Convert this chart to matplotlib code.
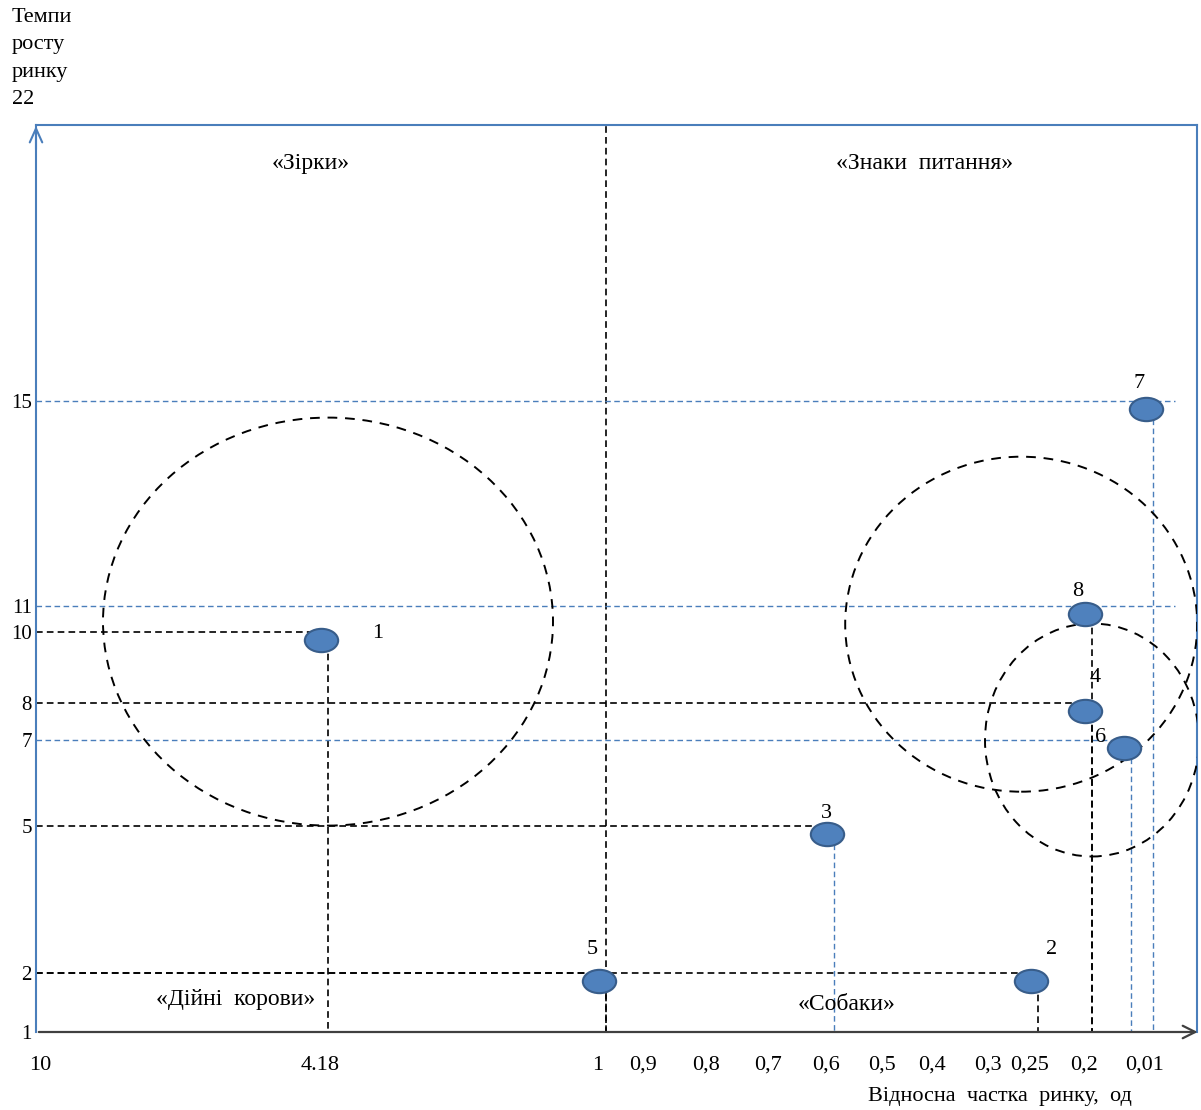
import numpy as np
import matplotlib.pyplot as plt
from matplotlib.path import Path
from matplotlib.patches import Ellipse
from matplotlib.transforms import ScaledTranslation, Affine2D

plt.rcParams['font.family'] = ['Liberation Serif', 'DejaVu Serif']

# Дані: номер продукту, відносна частка ринку, темпи росту ринку
point_ids = [1, 2, 3, 4, 5, 6, 7, 8]
point_share = [4.18, 0.25, 0.6, 0.2, 1.0, 0.08, 0.01, 0.2]
point_growth = [10, 2, 5, 8, 2, 7, 15, 11]
h_colors = ['k', 'k', 'k', 'k', 'k', 'b', 'b', 'b']   # горизонтальні лінії
v_colors = ['k', 'k', 'b', 'k', 'k', 'b', 'b', 'k']   # вертикальні лінії
long_h = [7, 8]   # лінії, що йдуть до правого краю

# Кола (центр: частка, темп; діаметр у пікселях)
circle_share = [4.18, 0.27, 0.2]
circle_growth = [10.4, 10.3, 7.0]
circle_w = [450, 352, 214]
circle_h = [408, 335, 233]

# Осі (нерівномірна шкала, як на малюнку)
x_tick_vals = [10, 4.18, 1, 0.9, 0.8, 0.7, 0.6, 0.5, 0.4, 0.3, 0.25, 0.2, 0.01]
x_tick_labels = ['10', '4.18', '1', '0,9', '0,8', '0,7', '0,6', '0,5', '0,4',
                 '0,3', '0,25', '0,2', '0,01']
y_tick_vals = [1, 2, 5, 7, 8, 10, 11, 15]

# опорні точки шкал (позиція в пікселях)
x_anchor_val = np.array([10, 4.18, 1, 0.9, 0.8, 0.7, 0.6, 0.5, 0.4, 0.3, 0.25, 0.2, 0.01, 0])
x_anchor_pos = np.array([36, 328, 606, 651, 714, 776, 834, 890, 940, 996, 1038, 1092, 1153, 1197])
y_anchor_val = np.array([1, 2, 5, 7, 8, 10, 11, 15, 22])
y_anchor_pos = 1110 - np.array([1032, 973, 826, 740, 703, 632, 606, 401, 125])


def x_fwd(v):
    return np.interp(v, x_anchor_val[::-1], x_anchor_pos[::-1])


def x_inv(p):
    return np.interp(p, x_anchor_pos, x_anchor_val)


def y_fwd(v):
    return np.interp(v, y_anchor_val, y_anchor_pos)


def y_inv(p):
    return np.interp(p, y_anchor_pos, y_anchor_val)


blue = '#4A7EBB'
colmap = {'k': 'black', 'b': blue}

fig = plt.figure(figsize=(12.01, 11.10), dpi=100)
ax = fig.add_axes([36 / 1201, 78 / 1110, 1161 / 1201, 907 / 1110])
ax.set_xscale('function', functions=(x_fwd, x_inv))
ax.set_yscale('function', functions=(y_fwd, y_inv))
ax.set_xlim(10, 0)
ax.set_ylim(1, 22)
# 10 має бути зліва
if ax.transData.transform((10, 5))[0] > ax.transData.transform((0.01, 5))[0]:
    ax.invert_xaxis()

for s in ['left', 'top', 'right']:
    ax.spines[s].set_color(blue)
    ax.spines[s].set_linewidth(1.5)
ax.spines['bottom'].set_visible(False)

ax.set_xticks(x_tick_vals)
ax.set_xticklabels(x_tick_labels, fontsize=16)
ax.set_yticks(y_tick_vals)
ax.set_yticklabels([str(v) for v in y_tick_vals], fontsize=15)
ax.minorticks_off()
ax.tick_params(axis='x', length=0, pad=17)
ax.tick_params(axis='y', length=0, pad=3)
off = ScaledTranslation(-8 / 100, 0, fig.dpi_scale_trans)
off_first = ScaledTranslation(4 / 100, 0, fig.dpi_scale_trans)
for i, lbl in enumerate(ax.get_xticklabels()):
    lbl.set_transform(lbl.get_transform() + (off_first if i == 0 else off))

# нижня вісь зі стрілкою та стрілка вгору
ax.annotate('', xy=(1.003, 0), xytext=(0, 0), xycoords='axes fraction',
            arrowprops=dict(arrowstyle='->,head_length=0.9,head_width=0.45',
                            color='#404040', lw=1.6), annotation_clip=False)
ax.annotate('', xy=(0, 1.002), xytext=(0, 0.97), xycoords='axes fraction',
            arrowprops=dict(arrowstyle='->,head_length=1.0,head_width=0.45',
                            color=blue, lw=1.5), annotation_clip=False)

dash = (0, (4, 2.5))
# лінія поділу квадрантів (частка = 1)
ax.plot([1, 1], [1, 22], color='black', lw=1.2, linestyle=dash)

for pid, sx, gy, hc, vc in zip(point_ids, point_share, point_growth, h_colors, v_colors):
    x_end = 0.005 if pid in long_h else sx
    ax.plot([10, x_end], [gy, gy], color=colmap[hc], lw=1.2 if hc == 'k' else 1.0, linestyle=dash)
    ax.plot([sx, sx], [gy, 1], color=colmap[vc], lw=1.2 if vc == 'k' else 1.0, linestyle=dash)

# кола
for cx, cy, w, h in zip(circle_share, circle_growth, circle_w, circle_h):
    tr = fig.dpi_scale_trans + ScaledTranslation(cx, cy, ax.transData)
    ax.add_patch(Ellipse((0, 0), w / 100, h / 100, transform=tr, fill=False,
                         edgecolor='black', lw=1.4, linestyle=(0, (5, 4)), zorder=3))

# маркери
ell = Path.unit_circle().transformed(Affine2D().scale(1, 0.7))
mk_off = ScaledTranslation(-7 / 100, -8 / 100, fig.dpi_scale_trans)
ax.plot(point_share, point_growth, linestyle='none', marker=ell, markersize=24,
        markerfacecolor='#4F81BD', markeredgecolor='#385D8A', markeredgewidth=1.5,
        transform=ax.transData + mk_off, zorder=5, clip_on=False)

# підписи номерів (зсув у пікселях)
label_off = {1: (50, 2), 2: (14, -23), 3: (-8, -12), 4: (3, -25),
             5: (-14, -23), 6: (-30, -2), 7: (-14, -18), 8: (-14, -14)}
for pid, sx, gy in zip(point_ids, point_share, point_growth):
    dx, dy = label_off[pid]
    ax.annotate(str(pid), (sx, gy), xytext=(dx * 0.72, -dy * 0.72), textcoords='offset points',
                ha='center', va='center', fontsize=16, zorder=6)

# назви квадрантів
fig.text(311 / 1201, 1 - 163 / 1110, '«Зірки»', ha='center', va='center', fontsize=17)
fig.text(925 / 1201, 1 - 163 / 1110, '«Знаки  питання»', ha='center', va='center', fontsize=17)
fig.text(236 / 1201, 1 - 1000 / 1110, '«Дійні  корови»', ha='center', va='center', fontsize=17)
fig.text(847 / 1201, 1 - 1005 / 1110, '«Собаки»', ha='center', va='center', fontsize=17)

# підписи осей
fig.text(12 / 1201, 1 - 8 / 1110, 'Темпи\nросту\nринку\n22', ha='left', va='top',
         fontsize=16, linespacing=1.6)
fig.text(1000 / 1201, 1 - 1097 / 1110, 'Відносна  частка  ринку,  од', ha='center', va='center',
         fontsize=16)

fig.savefig('out.png', dpi=100)
